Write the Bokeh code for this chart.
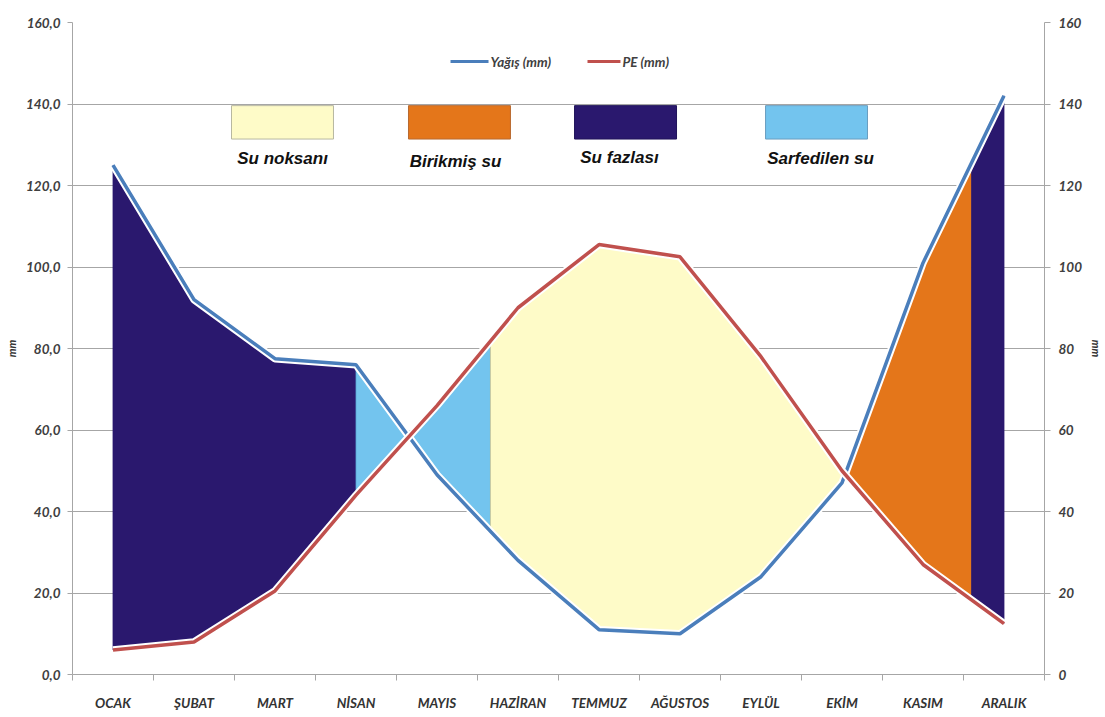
import numpy as np
from bokeh.plotting import figure
from bokeh.models import Range1d, FixedTicker, LinearAxis, CustomJSTickFormatter
from bokeh.core.properties import value
from bokeh.embed import file_html
from bokeh.resources import INLINE

# ---------------- data ----------------
months = ["OCAK", "ŞUBAT", "MART", "NİSAN", "MAYIS", "HAZİRAN",
          "TEMMUZ", "AĞUSTOS", "EYLÜL", "EKİM", "KASIM", "ARALIK"]
yagis = [125.0, 92.0, 77.5, 76.0, 49.0, 28.0, 11.0, 10.0, 24.0, 47.0, 101.0, 142.0]
pe = [6.0, 8.0, 20.5, 44.0, 66.0, 90.0, 105.5, 102.5, 78.0, 50.0, 27.0, 12.5]
y_ticks = [0, 20, 40, 60, 80, 100, 120, 140, 160]

# water balance phase limits (month index, fractional)
surplus_end = 3.0      # Su fazlası ends (NİSAN)
usage_end = 4.66       # Sarfedilen su ends (before HAZİRAN)
storage_end = 10.6     # Birikmiş su ends (between KASIM and ARALIK)

legend_names = ["Su noksanı", "Birikmiş su", "Su fazlası", "Sarfedilen su"]

# ---------------- styles ----------------
C_NOKSAN = "#FEFBC8"
C_BIRIKMIS = "#E4761A"
C_FAZLA = "#2A186E"
C_SARF = "#73C4EE"
C_YAGIS = "#4A7EBB"
C_PE = "#C0504D"
GRID = "#A6A6A6"
AXIS_FONT = "Lato"
LEG_FONT = "Liberation Sans"

xs = np.arange(len(months)) + 0.5
yg = np.array(yagis)
pv = np.array(pe)


def crossing(a, b, i):
    d0 = a[i] - b[i]
    d1 = a[i + 1] - b[i + 1]
    t = d0 / (d0 - d1)
    return xs[i] + t


def band(x0, x1, upper, lower):
    pts = [x0] + [c for c in xs if x0 + 1e-9 < c < x1 - 1e-9] + [x1]
    pts = np.array(pts)
    top = np.interp(pts, xs, upper)
    bot = np.interp(pts, xs, lower)
    return list(pts) + list(pts[::-1]), list(top) + list(bot[::-1])


c1 = crossing(yg, pv, 3)   # NİSAN-MAYIS
c2 = crossing(yg, pv, 9)   # EKİM-KASIM

p = figure(width=1105, height=717, output_backend="svg", toolbar_location=None,
           x_range=Range1d(0, 12), y_range=Range1d(0, 160),
           min_border_left=72, min_border_right=61, min_border_top=22, min_border_bottom=43)
p.outline_line_color = None
p.background_fill_color = "white"
p.border_fill_color = "white"

# fills
regions = [
    (0.5, surplus_end + 0.5, yg, pv, C_FAZLA),
    (surplus_end + 0.5, c1, yg, pv, C_SARF),
    (c1, usage_end + 0.5, pv, yg, C_SARF),
    (usage_end + 0.5, c2, pv, yg, C_NOKSAN),
    (c2, storage_end + 0.5, yg, pv, C_BIRIKMIS),
    (storage_end + 0.5, 11.5, yg, pv, C_FAZLA),
]
px, py, pc = [], [], []
for x0, x1, up, lo, col in regions:
    bx, by = band(x0, x1, up, lo)
    px.append(bx); py.append(by); pc.append(col)
p.patches(px, py, fill_color=pc, line_color=["#2A186E", "#5BA8D6", "#5BA8D6", "#C9C59A", "#C86818", "#2A186E"],
          line_width=0.8)

# lines
p.line(xs, yagis, line_color="white", line_width=7.5)
p.line(xs, yagis, line_color=C_YAGIS, line_width=3.5)
p.line(xs, pe, line_color="white", line_width=7.5)
p.line(xs, pe, line_color=C_PE, line_width=3.5)

# top line legend
p.line([4.667, 5.136], [150.4, 150.4], line_color=C_YAGIS, line_width=3)
p.line([6.358, 6.765], [150.4, 150.4], line_color=C_PE, line_width=3)
p.text([5.16, 6.79], [150.4, 150.4], text=["Yağış (mm)", "PE (mm)"],
       text_font=value(AXIS_FONT), text_font_style="bold italic", text_font_size="13.5px",
       text_color="#404040", text_baseline="middle", text_align="left")

# area legend
lx0 = [1.963, 4.148, 6.198, 8.556]
lx1 = [3.222, 5.407, 7.457, 9.815]
p.quad(left=lx0, right=lx1, bottom=131.4, top=139.6,
       fill_color=[C_NOKSAN, C_BIRIKMIS, C_FAZLA, C_SARF],
       line_color=["#B8B8A0", "#B86A30", "#20145A", "#6A9EC0"], line_width=1)
p.text([2.593, 4.728, 6.753, 9.235], [126.6, 125.8, 126.9, 126.6], text=legend_names,
       text_font=value(LEG_FONT), text_font_style="bold italic", text_font_size="17px",
       text_color="#111111", text_baseline="middle", text_align="center")

# grid
p.xgrid.grid_line_color = None
p.ygrid.ticker = FixedTicker(ticks=y_ticks)
p.ygrid.grid_line_color = GRID
p.ygrid.grid_line_width = 1

# x axis
xa = p.xaxis[0]
xa.ticker = FixedTicker(ticks=list(xs), minor_ticks=list(range(13)))
xa.formatter = CustomJSTickFormatter(args=dict(m=months), code="return m[Math.floor(tick)];")
xa.major_tick_out = 0
xa.major_tick_in = 0
xa.minor_tick_out = 6
xa.minor_tick_in = 0
xa.minor_tick_line_color = GRID
xa.axis_line_color = GRID
xa.major_label_standoff = 14
xa.major_label_text_font = AXIS_FONT
xa.major_label_text_font_style = "bold italic"
xa.major_label_text_font_size = "13.5px"
xa.major_label_text_color = "#333333"

# left y axis
ya = p.yaxis[0]
ya.ticker = FixedTicker(ticks=y_ticks)
ya.formatter = CustomJSTickFormatter(code="return tick.toFixed(1).replace('.', ',');")
ya.major_tick_out = 5
ya.major_tick_in = 0
ya.major_tick_line_color = GRID
ya.axis_line_color = GRID
ya.major_label_standoff = 7
ya.major_label_text_font = AXIS_FONT
ya.major_label_text_font_style = "bold italic"
ya.major_label_text_font_size = "13.5px"
ya.major_label_text_color = "#404040"
ya.axis_label = "mm"
ya.axis_label_text_font = AXIS_FONT
ya.axis_label_text_font_style = "bold italic"
ya.axis_label_text_font_size = "11px"
ya.axis_label_text_color = "#333333"
ya.axis_label_standoff = 5

# right y axis
p.extra_y_ranges = {"r": Range1d(0, 160)}
ra = LinearAxis(y_range_name="r")
ra.ticker = FixedTicker(ticks=y_ticks)
ra.major_tick_out = 6
ra.major_tick_in = 0
ra.major_tick_line_color = GRID
ra.axis_line_color = GRID
ra.major_label_standoff = 8
ra.major_label_text_font = AXIS_FONT
ra.major_label_text_font_style = "bold italic"
ra.major_label_text_font_size = "13.5px"
ra.major_label_text_color = "#404040"
ra.axis_label = "mm"
ra.axis_label_text_font = AXIS_FONT
ra.axis_label_text_font_style = "bold italic"
ra.axis_label_text_font_size = "11px"
ra.axis_label_text_color = "#333333"
ra.axis_label_standoff = 5
p.add_layout(ra, "right")

open("out.html", "w").write(file_html(p, INLINE))
